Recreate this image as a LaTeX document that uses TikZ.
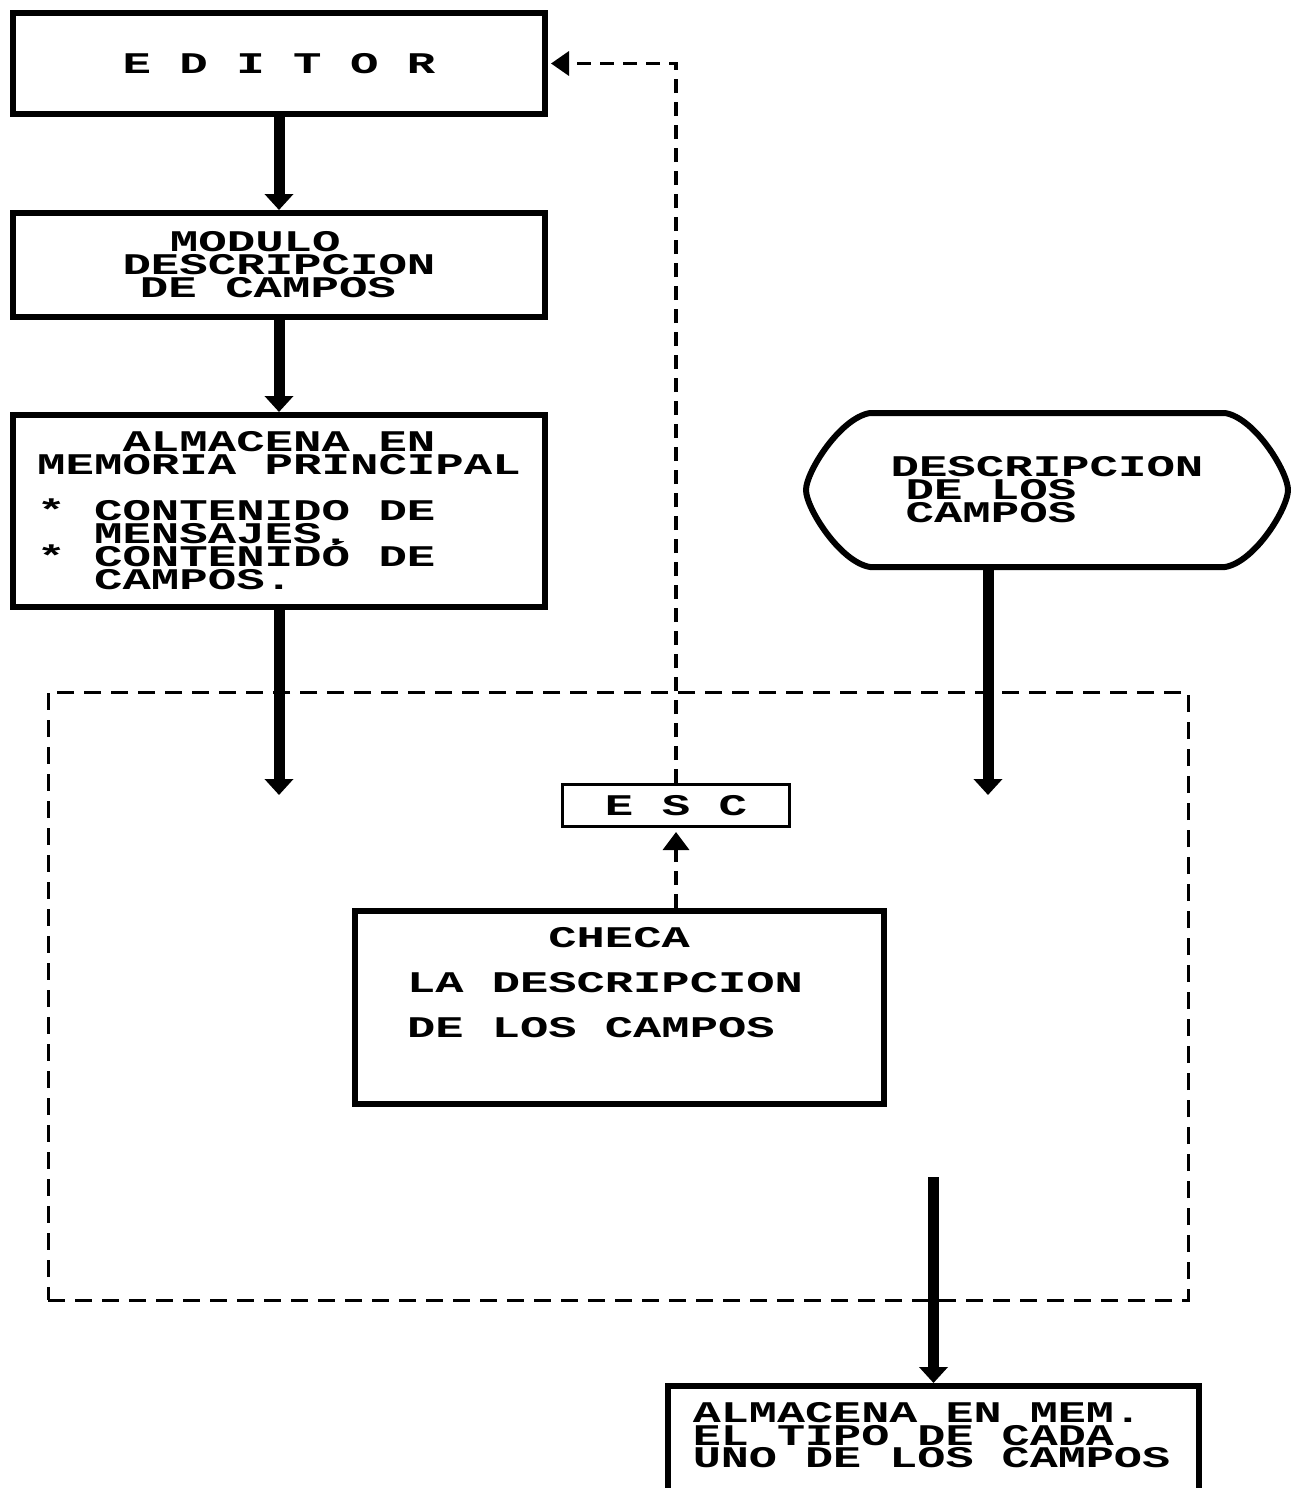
\documentclass[tikz,border=0pt]{standalone}
\usepackage{fontspec}
\usepackage{graphicx}
\usetikzlibrary{arrows.meta,calc}
\newfontfamily\pixfont{Liberation Mono}[WordSpace={1,0,0}]
\newcommand\pixl[3][1.58]{\scalebox{#1}[1]{\vbox{\pixfont\bfseries\fontsize{30}{#2}\selectfont\baselineskip=#2pt\lineskiplimit=-100pt\lineskip=0pt\halign{##\hfil\cr#3}}}}
\tikzset{
  blk/.style={draw=black, line width=6pt, inner sep=0pt, fill=white},
  escbox/.style={draw=black, line width=3pt, inner sep=0pt, fill=white},
  plain/.style={inner sep=0pt},
  tarrow/.style={line width=11pt, -{Triangle[width=28pt,length=16pt]}},
  dline/.style={line width=3.5pt, dash pattern=on 14pt off 9pt},
  dbox/.style={draw=black, line width=3pt, dash pattern=on 17pt off 10pt, inner sep=0pt},
}
\begin{document}
\begin{tikzpicture}[x=1pt,y=-1pt]
\useasboundingbox[fill=white] (0,0) rectangle (1290,1488);

% dashed group frame
\node[dbox, minimum width=1140pt, minimum height=608pt] (grp) at (618,996) {};

% boxes
\node[blk, minimum width=532pt, minimum height=101pt] (edit) at (279,63.5) {\pixl{23}{E D I T O R\cr}};
\node[blk, minimum width=532pt, minimum height=104pt] (mod) at (279,265) {\pixl{23}{\kern30pt MODULO\cr DESCRIPCION\cr\kern11pt DE CAMPOS\cr}};
\node[blk, minimum width=532pt, minimum height=192pt] (alm) at (279,511) {\pixl{23}{\ \ \ ALMACENA EN\cr MEMORIA PRINCIPAL\cr\cr * CONTENIDO DE\cr\ \ MENSAJES.\cr * CONTENIDÓ DE\cr\ \ CAMPOS.\cr}};
\node[plain, minimum width=482pt, minimum height=154pt] (desc) at (1047,490) {\pixl{23}{DESCRIPCION\cr\kern9.5pt DE LOS\cr\kern9.5pt CAMPOS\cr}};
\draw[line width=6pt, line join=round, shift={(desc.center)}]
  (-177,-77) -- (178,-77) .. controls (208,-72) and (241,-18) .. (241,0)
  .. controls (241,18) and (208,72) .. (178,77) -- (-177,77)
  .. controls (-207,72) and (-241,18) .. (-241,0)
  .. controls (-241,-18) and (-207,-72) .. cycle;
\node[escbox, minimum width=227pt, minimum height=42pt] (esc) at (676,805.5) {\pixl{23}{E S C\cr}};
\node[blk, minimum width=529pt, minimum height=193pt] (checa) at (619.5,1007.5) {};
\node[plain] (checat) at (605,983) {\pixl[1.57]{45}{\ \ \ \ \ CHECA\cr LA DESCRIPCION\cr DE LOS CAMPOS\cr}};
\node[blk, minimum width=531pt, minimum height=141pt] (bot) at (933.5,1456.5) {};
\node[plain] (bott) at (931.5,1435.5) {\pixl[1.56]{22.5}{ALMACENA EN MEM.\cr EL TIPO DE CADA\cr UNO DE LOS CAMPOS\cr}};

% free ends
\coordinate (la) at (279,795);
\coordinate (ra) at (988,795);
\coordinate (bs) at (933.5,1177);

% connectors
\draw[tarrow] (edit.south) -- (mod.north);
\draw[tarrow] (mod.south) -- (alm.north);
\draw[tarrow] (alm.south) -- (la);
\draw[tarrow] (desc.south -| ra) -- (ra);
\draw[tarrow] (bs) -- (bot.north);
\draw[dline, -{Triangle[width=24pt,length=18pt]}] (esc.north) -- (esc.north |- edit.east) -- ([xshift=3pt]edit.east);
\draw[dline, -{Triangle[width=26pt,length=18pt]}] (checa.north -| esc.south) -- ([yshift=-4pt]esc.south);
\end{tikzpicture}
\end{document}
